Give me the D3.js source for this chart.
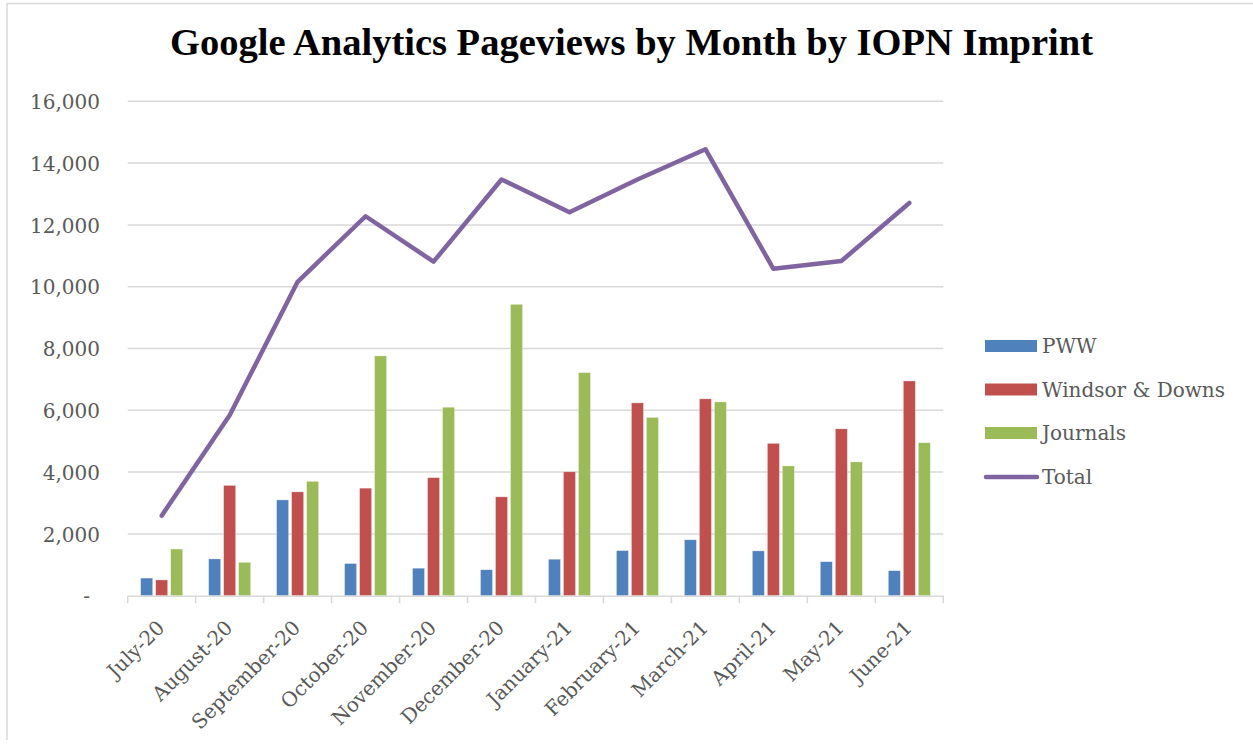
<!DOCTYPE html>
<html>
<head>
<meta charset="utf-8">
<script src="https://cdn.jsdelivr.net/npm/d3@7"></script>
<style>
  html, body { margin: 0; padding: 0; background: #fff; }
  svg { display: block; }
</style>
</head>
<body>
<svg id="chart" width="1253" height="748"></svg>
<script>
const months = ["July-20","August-20","September-20","October-20","November-20","December-20","January-21","February-21","March-21","April-21","May-21","June-21"];
const pww = [570, 1190, 3100, 1040, 890, 840, 1180, 1460, 1810, 1450, 1100, 810];
const windsor = [510, 3570, 3360, 3480, 3820, 3200, 4010, 6240, 6370, 4930, 5400, 6950];
const journals = [1510, 1080, 3700, 7760, 6100, 9430, 7220, 5770, 6270, 4200, 4330, 4950];
const total = [2590, 5840, 10160, 12280, 10810, 13470, 12410, 13470, 14450, 10580, 10830, 12710];
const seriesNames = ["PWW", "Windsor & Downs", "Journals", "Total"];
const colors = ["#4F81BD", "#C0504D", "#9BBB59", "#8064A2"];
const yTicks = [0, 2000, 4000, 6000, 8000, 10000, 12000, 14000, 16000];
const title = "Google Analytics Pageviews by Month by IOPN Imprint";

const FONT = "'DejaVu Serif', serif";
const TFONT = "'Liberation Serif', 'Times New Roman', serif";
const FS = 20;
const svg = d3.select("#chart");

// chart border (top & left visible)
svg.append("line").attr("x1", 7).attr("x2", 1253).attr("y1", 3.5).attr("y2", 3.5)
  .attr("stroke", "#D9D9D9").attr("stroke-width", 1.5);
svg.append("line").attr("x1", 7).attr("x2", 7).attr("y1", 3.5).attr("y2", 740)
  .attr("stroke", "#D9D9D9").attr("stroke-width", 1.5);

const x = d3.scaleBand().domain(months).range([127.7, 943.3]).padding(0);
const y = d3.scaleLinear().domain([0, 16000]).range([595.7, 101.3]);

// gridlines
svg.append("g").selectAll("line").data(yTicks.filter(d => d > 0)).join("line")
  .attr("x1", 127.7).attr("x2", 943.3)
  .attr("y1", d => y(d)).attr("y2", d => y(d))
  .attr("stroke", "#D9D9D9").attr("stroke-width", 1.5);

// y axis labels
const yAxis = d3.axisLeft(y).tickValues(yTicks)
  .tickFormat(d => d === 0 ? "-" : d3.format(",")(d)).tickSize(0).tickPadding(0);
const gy = svg.append("g").attr("transform", "translate(100,0)").call(yAxis);
gy.select(".domain").remove();
gy.selectAll("text")
  .attr("font-family", FONT).attr("font-size", FS).attr("fill", "#595959")
  .attr("dy", "0.36em")
  .attr("x", d => d === 0 ? -10 : 0);

// bars
const barW = 12;
const offsets = [-21, -6, 9];
[pww, windsor, journals].forEach((vals, si) => {
  svg.append("g").selectAll("rect").data(vals).join("rect")
    .attr("x", (d, i) => x(months[i]) + x.bandwidth() / 2 + offsets[si])
    .attr("width", barW)
    .attr("y", d => y(d))
    .attr("height", d => y(0) - y(d))
    .attr("fill", colors[si])
    .attr("stroke", "#ffffff").attr("stroke-opacity", 0.5).attr("stroke-width", 0.6);
});

// x axis
const xAxis = d3.axisBottom(x).tickSize(0).tickFormat("");
const gx = svg.append("g").attr("transform", `translate(0,${y(0)})`).call(xAxis);
gx.select(".domain").attr("stroke", "#D9D9D9").attr("stroke-width", 1.5);
gx.selectAll(".tick").remove();
const boundaries = months.map(m => x(m)).concat([x(months[months.length - 1]) + x.bandwidth()]);
svg.append("g").selectAll("line").data(boundaries).join("line")
  .attr("x1", d => d).attr("x2", d => d)
  .attr("y1", y(0)).attr("y2", y(0) + 7.5)
  .attr("stroke", "#D9D9D9").attr("stroke-width", 1.5);

svg.append("g").selectAll("text").data(months).join("text")
  .attr("transform", d => `translate(${x(d) + x.bandwidth() / 2 + 4},629) rotate(-45)`)
  .attr("text-anchor", "end")
  .attr("font-family", FONT).attr("font-size", FS).attr("fill", "#595959")
  .text(d => d);

// total line
const line = d3.line()
  .x((d, i) => x(months[i]) + x.bandwidth() / 2)
  .y(d => y(d));
svg.append("path").datum(total)
  .attr("d", line)
  .attr("fill", "none").attr("stroke", colors[3]).attr("stroke-width", 4.5)
  .attr("stroke-linejoin", "round").attr("stroke-linecap", "round");

// title
const t = svg.append("text")
  .attr("x", 631.5).attr("y", 55)
  .attr("text-anchor", "middle")
  .attr("font-family", TFONT).attr("font-weight", "bold").attr("font-size", 36)
  .attr("fill", "#000").text(title);
const tw = t.node().getComputedTextLength();
t.attr("font-size", 36 * 923 / tw);

// legend
const legY = [346, 389.5, 433, 477];
const leg = svg.append("g");
seriesNames.forEach((name, i) => {
  if (i < 3) {
    leg.append("rect").attr("x", 985).attr("y", legY[i] - 6).attr("width", 52).attr("height", 12)
      .attr("fill", colors[i]);
  } else {
    leg.append("line").attr("x1", 986).attr("x2", 1037).attr("y1", legY[i]).attr("y2", legY[i])
      .attr("stroke", colors[i]).attr("stroke-width", 4.5).attr("stroke-linecap", "round");
  }
  leg.append("text").attr("x", 1042).attr("y", legY[i]).attr("dy", "0.36em")
    .attr("font-family", FONT).attr("font-size", FS).attr("fill", "#595959")
    .text(name);
});
</script>
</body>
</html>
